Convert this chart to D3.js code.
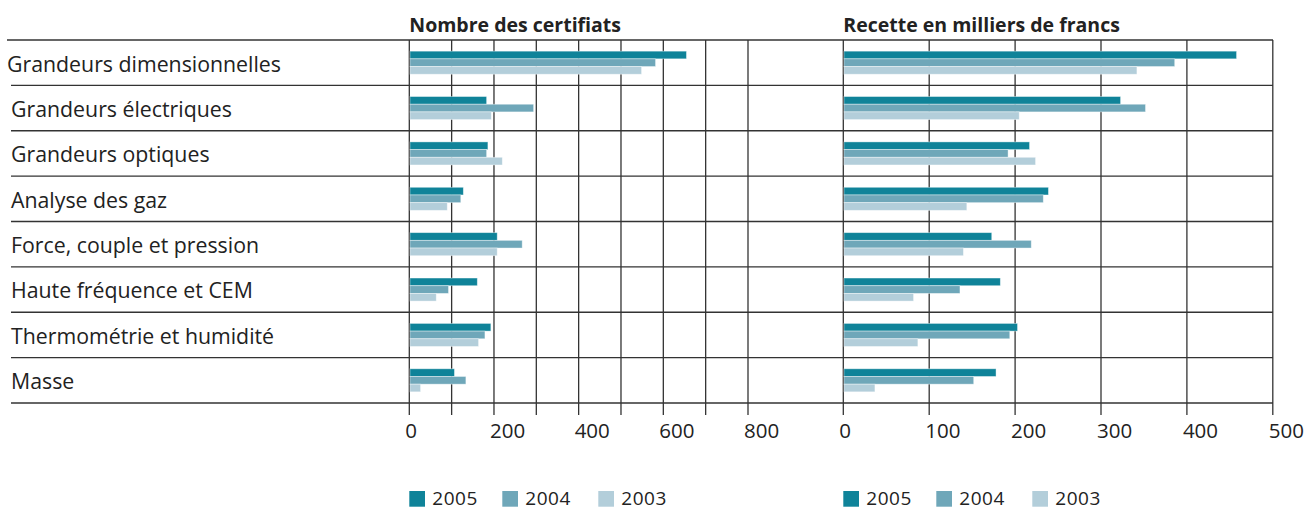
<!DOCTYPE html>
<html>
<head>
<meta charset="utf-8">
<script src="https://cdn.jsdelivr.net/npm/d3@7"></script>
<style>
  body { margin: 0; background: #fff; }
  text { fill: #222; }
</style>
</head>
<body>
<script>
// data
var categories = ['Grandeurs dimensionnelles', 'Grandeurs électriques', 'Grandeurs optiques',
  'Analyse des gaz', 'Force, couple et pression', 'Haute fréquence et CEM',
  'Thermométrie et humidité', 'Masse'];
var years = ['2005', '2004', '2003'];
var colors = ['#0f8399', '#6fa7b9', '#b3ceda'];

// Nombre des certifiats, per year
var cert2005 = [653, 181, 184, 126, 206, 159, 191, 105];
var cert2004 = [580, 292, 181, 120, 265, 91, 177, 132];
var cert2003 = [547, 192, 218, 88, 206, 62, 162, 25];
var certTicks = [0, 200, 400, 600, 800];

// Recette en milliers de francs, per year
var rec2005 = [457, 322, 216, 238, 172, 182, 202, 177];
var rec2004 = [385, 351, 191, 232, 218, 135, 193, 151];
var rec2003 = [341, 204, 223, 143, 139, 81, 86, 36];
var recTicks = [0, 100, 200, 300, 400, 500];

var W = 1306, H = 510;
var yTop = 40, yBottom = 403;

var svg = d3.select('body').append('svg')
  .attr('width', W)
  .attr('height', H)
  .style('font-family', '"Open Sans", sans-serif');

var y = d3.scaleBand().domain(categories).range([yTop, yBottom]);
var yy = d3.scaleBand().domain(years).range([0, y.bandwidth()]).paddingOuter(1.45);

// row lines spanning both panels
svg.append('line')
  .attr('x1', 7).attr('x2', 1273)
  .attr('y1', yTop).attr('y2', yTop)
  .attr('stroke', '#333').attr('stroke-width', 1.3);
svg.selectAll('.rowline')
  .data(categories)
  .enter()
  .append('line')
  .attr('x1', 11).attr('x2', 1273)
  .attr('y1', function(d) { return y(d) + y.bandwidth(); })
  .attr('y2', function(d) { return y(d) + y.bandwidth(); })
  .attr('stroke', '#333').attr('stroke-width', 1.3);

// category labels
svg.selectAll('.cat')
  .data(categories)
  .enter()
  .append('text')
  .attr('x', function(d, i) { return i === 0 ? 7 : 11; })
  .attr('y', function(d) { return y(d) + 31.5; })
  .style('font-size', '21.3px')
  .text(function(d) { return d; });

var panel = function(x0, x1, maxV, step, ticks, series, title) {
  var x = d3.scaleLinear().domain([0, maxV]).range([x0, x1]);
  var g = svg.append('g');

  g.selectAll('.grid')
    .data(d3.range(0, maxV + 1, step))
    .enter()
    .append('line')
    .attr('x1', function(d) { return x(d); })
    .attr('x2', function(d) { return x(d); })
    .attr('y1', yTop).attr('y2', yBottom + 12)
    .attr('stroke', '#333').attr('stroke-width', 1.3);

  g.selectAll('.tick')
    .data(ticks)
    .enter()
    .append('text')
    .attr('x', function(d) { return x(d) - 4; })
    .attr('y', 438)
    .style('font-size', '20.5px')
    .text(function(d) { return d; });

  g.append('text')
    .attr('x', x0)
    .attr('y', 32)
    .style('font-size', '19.5px')
    .style('font-weight', 'bold')
    .text(title);

  series.forEach(function(vals, k) {
    g.selectAll('.bar' + k)
      .data(vals)
      .enter()
      .append('rect')
      .attr('x', x(0) + 0.7)
      .attr('y', function(d, i) { return y(categories[i]) + yy(years[k]); })
      .attr('width', function(d) { return x(d) - x(0); })
      .attr('height', yy.bandwidth())
      .attr('fill', colors[k])
      .attr('stroke', 'rgba(255,255,255,0.5)')
      .attr('stroke-width', 0.8);
  });

  // legend
  var offs = [0, 93, 189];
  var lg = g.selectAll('.lg')
    .data(years)
    .enter()
    .append('g')
    .attr('transform', function(d, i) { return 'translate(' + (x0 + offs[i]) + ',491)'; });
  lg.append('rect')
    .attr('width', 15.7).attr('height', 15.7)
    .attr('fill', function(d, i) { return colors[i]; });
  lg.append('text')
    .attr('x', 23).attr('y', 13.5)
    .style('font-size', '19px')
    .style('letter-spacing', '0.5px')
    .text(function(d) { return d; });
};

panel(409.3, 748, 800, 100, certTicks, [cert2005, cert2004, cert2003], 'Nombre des certifiats');
panel(843.3, 1272.8, 500, 100, recTicks, [rec2005, rec2004, rec2003], 'Recette en milliers de francs');
</script>
</body>
</html>
